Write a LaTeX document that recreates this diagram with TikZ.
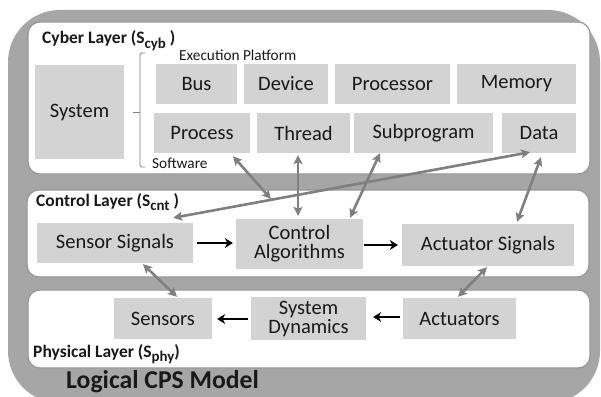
\documentclass[tikz,border=0pt]{standalone}
\usepackage{fontspec}
\setmainfont{Carlito}
\usetikzlibrary{arrows.meta}
\definecolor{outergray}{RGB}{166,166,166}
\definecolor{boxgray}{RGB}{211,211,211}
\definecolor{panelline}{RGB}{150,150,150}
\definecolor{arrgray}{RGB}{128,128,128}
\definecolor{txt}{RGB}{25,25,25}
\newcommand\lsub[1]{\raisebox{-0.5ex}{\scalebox{0.85}{#1}}}
\begin{document}
\begin{tikzpicture}[x=1pt,y=-1pt,
  box/.style={fill=boxgray, draw=none, inner sep=0pt, font=\fontsize{20.5}{22}\selectfont, text=txt, align=center},
  panel/.style={fill=white, draw=panelline, line width=1.2pt, rounded corners=12pt},
  title/.style={font=\bfseries\fontsize{17.5}{19}\selectfont, text=txt, inner sep=0pt, anchor=base west},
  small/.style={font=\fontsize{15.3}{17}\selectfont, text=txt, inner sep=0pt, anchor=base west},
  bigtitle/.style={font=\bfseries\fontsize{25.7}{28}\selectfont, text=txt, inner sep=0pt, anchor=base west},
  bracket/.style={draw=arrgray, line width=0.8pt, rounded corners=1.5pt},
  garrow/.style={draw=arrgray, line width=2.6pt, {Stealth[length=9pt,width=9pt,inset=2pt]}-{Stealth[length=9pt,width=9pt,inset=2pt]}},
  barrow/.style={draw=black, line width=2.4pt, -{Stealth[length=8pt,width=10pt,inset=2.5pt]}}
]
\path[use as bounding box] (0,0) rectangle (601,396);
\begin{scope}
  \clip (0,0) rectangle (601,396);
  \fill[outergray, rounded corners=52pt] (8,10) rectangle (600,403);
\end{scope}

% panels
\draw[panel] (28,22) rectangle (590,174);
\draw[panel] (27,190) rectangle (589,277);
\draw[panel] (28,290) rectangle (590,368);

% titles
\node[title] (cyt) at (42,44) {Cyber Layer (S\lsub{cyb} )};
\node[title] (cnt) at (36,206) {Control Layer (S\lsub{cnt} )};
\node[title] (pht) at (33,357) {Physical Layer (S\lsub{phy})};
\node[bigtitle] (lcm) at (66,388) {Logical CPS Model};
\node[small] (ep) at (179,60) {Execution Platform};
\node[small] (sw) at (152,168) {Software};

% bracket
\draw[bracket] (145,53) -- (140,53) -- (140,167) -- (145,167);
\draw[bracket] (140,112) -- (133,112);

% cyber boxes
\node[box, minimum width=89pt, minimum height=94pt] (sys) at (79.5,112) {System};
\node[box, minimum width=81pt, minimum height=40pt] (bus) at (196.5,84) {Bus};
\node[box, minimum width=84pt, minimum height=40pt] (dev) at (286,84) {Device};
\node[box, minimum width=115pt, minimum height=40pt] (proc) at (392.5,84) {Processor};
\node[box, minimum width=119pt, minimum height=40pt] (mem) at (516.5,84) {Memory};
\node[box, minimum width=96pt, minimum height=40pt] (prs) at (202,133) {Process};
\node[box, minimum width=93pt, minimum height=40pt] (thr) at (303.5,133) {Thread};
\node[box, minimum width=139pt, minimum height=40pt] (sub) at (423.5,133) {Subprogram};
\node[box, minimum width=74pt, minimum height=40pt] (dat) at (539,133) {Data};

% control boxes
\node[box, minimum width=156pt, minimum height=40pt] (ss) at (115,243) {Sensor Signals};
\node[box, minimum width=127pt, minimum height=50pt] (ca) at (299.5,244) {Control\\[-3pt]Algorithms};
\node[box, minimum width=172pt, minimum height=42pt] (as) at (488,245) {Actuator Signals};

% physical boxes
\node[box, minimum width=98pt, minimum height=41pt] (sen) at (163,318.5) {Sensors};
\node[box, minimum width=115pt, minimum height=43pt] (sd) at (308.5,318.5) {System\\[-3pt]Dynamics};
\node[box, minimum width=113pt, minimum height=41pt] (act) at (459.5,318.5) {Actuators};

% black arrows
\draw[barrow] ([xshift=4pt]ss.east |- 0,243) -- ([xshift=-3pt]ca.west |- 0,243);
\draw[barrow] ([xshift=1pt]ca.east |- 0,245) -- ([xshift=-4pt]as.west |- 0,245);
\draw[barrow] ([xshift=-3pt]act.west |- 0,317) -- ([xshift=7pt]sd.east |- 0,317);
\draw[barrow] ([xshift=-3pt]sd.west |- 0,319) -- ([xshift=5pt]sen.east |- 0,319);

% gray double arrows
\coordinate (cross) at (271,199);
\draw[garrow] ([shift={(31,3)}]prs.south) -- (cross);
\draw[garrow] ([shift={(-5.5,2)}]thr.south) -- ([shift={(-1.5,-3)}]ca.north);
\draw[garrow] ([shift={(-43.5,0)}]sub.south) -- ([shift={(50.5,-1)}]ca.north);
\draw[garrow] ([shift={(-9,-1)}]dat.south) -- ([shift={(-20,-5)}]ss.north east);
\draw[garrow] ([shift={(2,4)}]dat.south) -- ([shift={(29,-2)}]as.north);
\draw[garrow] ([shift={(28,1)}]ss.south) -- ([shift={(14,-1)}]sen.north);
\draw[garrow] ([shift={(-1,1)}]as.south) -- ([shift={(-1.5,-1)}]act.north);
\end{tikzpicture}
\end{document}
